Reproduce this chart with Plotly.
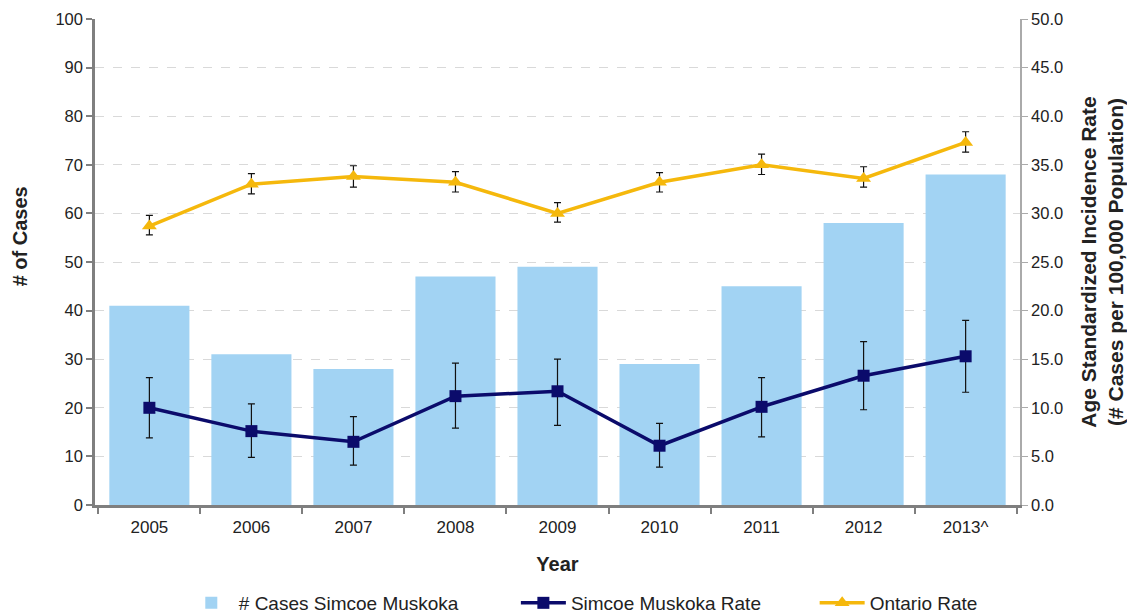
import plotly.graph_objects as go

years = ["2005", "2006", "2007", "2008", "2009", "2010", "2011", "2012", "2013^"]
cases = [41, 31, 28, 47, 49, 29, 45, 58, 68]

sm_rate = [10.0, 7.6, 6.5, 11.2, 11.7, 6.1, 10.1, 13.3, 15.3]
sm_upper = [13.1, 10.4, 9.1, 14.6, 15.0, 8.4, 13.1, 16.8, 19.0]
sm_lower = [6.9, 4.9, 4.1, 7.9, 8.2, 3.9, 7.0, 9.8, 11.6]

on_rate = [28.7, 33.0, 33.8, 33.2, 30.0, 33.2, 35.0, 33.6, 37.3]
on_upper = [29.8, 34.1, 34.9, 34.3, 31.1, 34.2, 36.1, 34.8, 38.4]
on_lower = [27.8, 32.0, 32.7, 32.2, 29.1, 32.2, 34.0, 32.7, 36.3]

FONT = "Liberation Sans, Arial, sans-serif"

fig = go.Figure()
fig.add_trace(go.Bar(
    x=years, y=cases, name="# Cases Simcoe Muskoka", legend="legend",
    marker=dict(color="#A2D3F3", line=dict(width=0)),
))
fig.add_trace(go.Scatter(
    x=years, y=sm_rate, name="Simcoe Muskoka Rate", yaxis="y2", legend="legend2",
    mode="lines+markers",
    line=dict(color="#0B0B6B", width=3.5),
    marker=dict(symbol="square", size=12, color="#0B0B6B"),
    error_y=dict(type="data", symmetric=False,
                 array=[u - v for u, v in zip(sm_upper, sm_rate)],
                 arrayminus=[v - l for v, l in zip(sm_rate, sm_lower)],
                 color="#111111", thickness=1.2, width=3.5),
))
fig.add_trace(go.Scatter(
    x=years, y=on_rate, name="Ontario Rate", yaxis="y2", legend="legend3",
    mode="lines+markers",
    line=dict(color="#F5B80C", width=3.5),
    marker=dict(symbol="triangle-up", size=13, color="#F5B80C"),
    error_y=dict(type="data", symmetric=False,
                 array=[u - v for u, v in zip(on_upper, on_rate)],
                 arrayminus=[v - l for v, l in zip(on_rate, on_lower)],
                 color="#111111", thickness=1.2, width=3.5),
))

leg_common = dict(orientation="h", y=-0.2016, yanchor="middle", xanchor="left",
                  font=dict(size=19, color="#222222"), itemwidth=45,
                  bgcolor="rgba(0,0,0,0)")

fig.update_layout(
    width=1119, height=605,
    margin=dict(l=87, r=107, t=11, b=108, autoexpand=False),
    plot_bgcolor="white", paper_bgcolor="white",
    font=dict(family=FONT, size=16, color="#222222"),
    bargap=0.215,
    showlegend=True,
    legend=dict(x=0.096, **leg_common),
    legend2=dict(x=0.455, **leg_common),
    legend3=dict(x=0.778, **leg_common),
    xaxis=dict(
        type="category", tickson="boundaries", ticks="outside", ticklen=6,
        tickcolor="#7f7f7f", tickwidth=2,
        showline=True, linecolor="#7f7f7f", linewidth=2.5,
        tickfont=dict(size=17), automargin=False, ticklabelstandoff=5,
        title=dict(text="<b>Year</b>", font=dict(size=20), standoff=21),
        showgrid=False,
    ),
    yaxis=dict(
        range=[0, 100], dtick=10, ticks="outside", ticklen=6,
        tickcolor="#7f7f7f", tickwidth=2,
        showline=True, linecolor="#7f7f7f", linewidth=2.5,
        showgrid=True, gridcolor="#D9D9D9", griddash="dash", gridwidth=1,
        zeroline=False, automargin=False,
        tickfont=dict(size=16.5),
    ),
    yaxis2=dict(
        range=[0, 50], dtick=5, tickformat=".1f", overlaying="y", side="right",
        ticks="outside", ticklen=6, tickcolor="#AAAAAA", tickwidth=1,
        showline=True, linecolor="#AAAAAA", linewidth=1.5,
        showgrid=False, zeroline=False, automargin=False,
        tickfont=dict(size=16.5),
        title=dict(text="<b>Age Standardized Incidence Rate<br>(# Cases per 100,000 Population)</b>",
                   font=dict(size=21), standoff=26),
    ),
    annotations=[dict(
        text="<b># of Cases</b>", xref="paper", yref="paper",
        x=-0.081, y=0.553, xanchor="center", yanchor="middle",
        textangle=-90, showarrow=False, font=dict(size=20, color="#222222"),
    )],
)

fig.write_html("out.html")
